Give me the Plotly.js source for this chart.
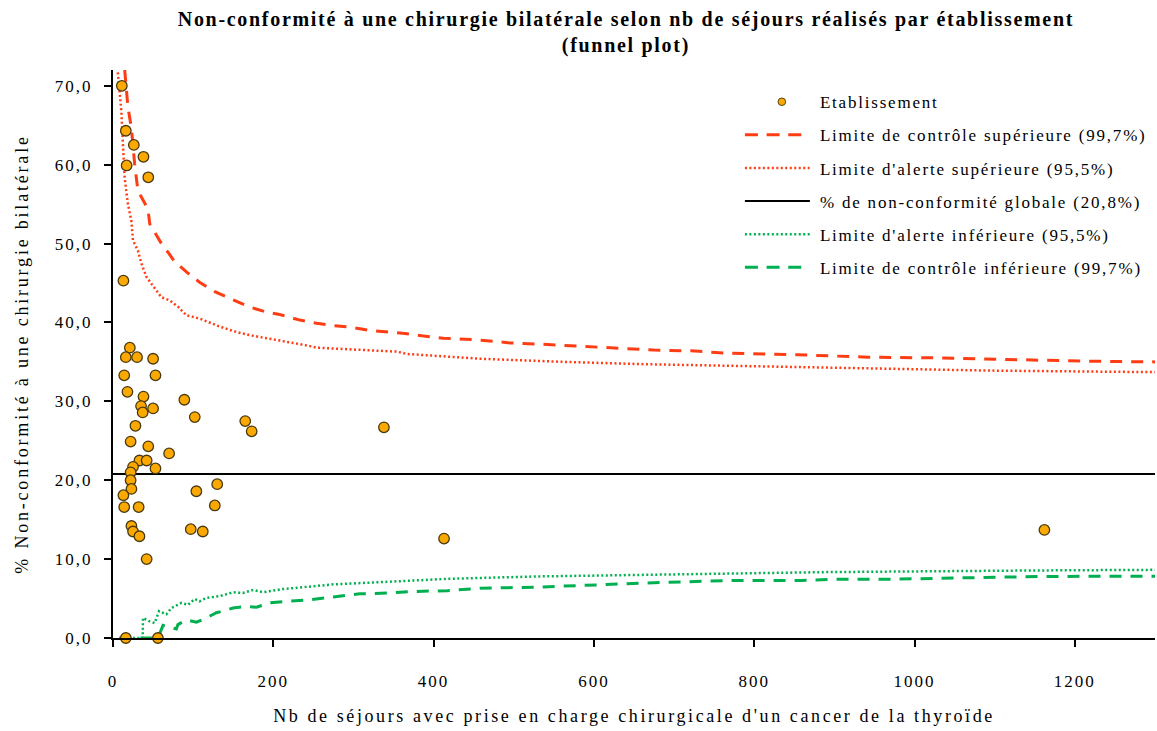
<!DOCTYPE html>
<html>
<head>
<meta charset="utf-8">
<script src="https://cdn.plot.ly/plotly-3.0.1.min.js"></script>
<style>
html,body{margin:0;padding:0;background:#fff}
#chart{width:1157px;height:731px}
#chart .legendtext{letter-spacing:1.8px}
#chart .legend .scrollbox,#chart .legend{clip-path:none !important}
#chart .legendlines path{transform:translate(-45.8px,0px) scaleX(2.167)}
#chart .legendlines path[style*="9px"]{stroke-dasharray:6px 4px !important}
#chart .legendlines path[style*="2.5px"]{stroke-dasharray:0.92px 1.15px !important}
#chart .legendpoints path{transform:translate(2px,0px) scale(0.72)}
#chart .xtitle{letter-spacing:2.6px}
#chart .ytitle{letter-spacing:2.8px}
#chart .xtick text,#chart .ytick text{letter-spacing:2px}
#chart .gtitle{letter-spacing:1.7px}
</style>
</head>
<body>
<div id="chart"></div>
<script>
// Establishments: number of stays and % non-conformity
const establishmentsN = [11,16,26,38,17,44,13,21,16,30,50,14,53,18,38,89,35,50,37,102,28,22,44,70,33,42,25,53,22,22,23,13,104,130,14,32,127,23,25,33,97,112,42,16,56,165,173,338,413,1162];
const establishmentsPct = [70.0,64.3,62.5,61.0,59.9,58.4,45.3,36.8,35.6,35.6,35.4,33.3,33.3,31.2,30.6,30.2,29.4,29.1,28.6,28.0,26.9,24.9,24.3,23.4,22.5,22.5,21.7,21.5,21.0,20.0,18.9,18.1,18.6,19.5,16.6,16.6,16.8,14.2,13.5,12.9,13.8,13.5,10.0,0,0,27.5,26.2,26.7,12.6,13.7];

// Upper control limit (99.7%)
const uclX = [14.6,18.6,22.9,24.9,27,31.1,35.4,43.6,45.8,52,60.4,68.6,77,91.6,108,127,148,169,192,208,233,254,275,296,319,342,364,385,412,454,496,542,583,629,675,721,767,854,942,1033,1121,1208,1300];
const uclY = [72,67.3,64.7,61.8,60.1,56.7,55.9,54.4,52.5,51.5,50.0,48.9,47.7,46.4,45.1,43.9,43.0,42.0,41.3,41.0,40.3,39.9,39.6,39.4,39.0,38.8,38.6,38.3,38.0,37.8,37.4,37.2,37.0,36.7,36.5,36.4,36.1,35.9,35.6,35.5,35.3,35.1,35.0];

// Upper alert limit (95.5%)
const ualX = [6,10.4,12.4,14.5,18.6,22.9,24.9,31.1,35.4,41.6,47.9,60.4,70.8,81.1,91.6,108,130,150,170,190,208,246,254,354,367,458,562,667,767,925,1092,1300];
const ualY = [71.7,66.8,62.6,58.4,55.0,52.9,50.4,49.1,47.5,45.8,44.9,43.2,42.8,42.0,40.9,40.5,39.6,38.9,38.4,38.0,37.7,37.0,36.8,36.3,36.0,35.4,35.0,34.7,34.5,34.2,33.9,33.7];

// Overall non-conformity
const overallX = [0,1300];
const overallRate = [20.8,20.8];

// Lower alert limit (95.5%)
const lalX = [8,37,37.4,45.8,52,57.4,66.6,72.9,85.4,93.6,102,108,116.6,133,150,162,175,187,212,275,358,417,528,720,888,1150,1300];
const lalY = [0,0,2.55,2.1,1.9,3.4,3.0,3.8,4.45,4.2,4.95,4.65,5.1,5.3,5.8,5.7,6.1,5.8,6.2,6.8,7.2,7.5,7.8,8.1,8.35,8.56,8.64];

// Lower control limit (99.7%)
const lclX = [8,56,60.4,62.4,79,81,91.6,104,116.6,129,150,166.6,179,196,217,242,275,308,342,375,417,458,528,615,685,772,859,906,976,1063,1156,1300];
const lclY = [0,0,1.1,1.6,1.15,1.7,2.3,2.0,2.55,3.2,3.8,4.0,3.9,4.45,4.65,4.8,5.2,5.6,5.7,5.9,6.0,6.3,6.45,6.8,7.04,7.3,7.3,7.46,7.46,7.63,7.8,7.84];

const xTicks = [0,200,400,600,800,1000,1200];
const yTicks = [0,10,20,30,40,50,60,70];
const yTickText = ["0,0","10,0","20,0","30,0","40,0","50,0","60,0","70,0"];

const names = [
  "Etablissement",
  "Limite de contrôle supérieure (99,7%)",
  "Limite d'alerte supérieure (95,5%)",
  "% de non-conformité globale (20,8%)",
  "Limite d'alerte inférieure (95,5%)",
  "Limite de contrôle inférieure (99,7%)"
];

const red = '#FF3D14', green = '#00B050';
const serif = 'Liberation Serif, Times New Roman, serif';

const traces = [
  {x: lclX, y: lclY, mode:'lines', name:names[5], legendgroup:'g6', legendrank:6,
   line:{color:green, width:3, dash:'12px,9px'}},
  {x: lalX, y: lalY, mode:'lines', name:names[4], legendgroup:'g5', legendrank:5,
   line:{color:green, width:2.5, dash:'2px,2.5px'}},
  {x: ualX, y: ualY, mode:'lines', name:names[2], legendgroup:'g3', legendrank:3,
   line:{color:red, width:2.5, dash:'2px,2.5px'}},
  {x: uclX, y: uclY, mode:'lines', name:names[1], legendgroup:'g2', legendrank:2,
   line:{color:red, width:3, dash:'12px,9px'}},
  {x: overallX, y: overallRate, mode:'lines', name:names[3], legendgroup:'g4', legendrank:4,
   line:{color:'#000', width:2}},
  {x: establishmentsN, y: establishmentsPct, mode:'markers', name:names[0], legendgroup:'g1', legendrank:1,
   marker:{color:'#FBA900', size:10.5, line:{color:'#4a3a10', width:1.3}}, cliponaxis:false}
];

const layout = {
  width:1157, height:731,
  paper_bgcolor:'#fff', plot_bgcolor:'#fff',
  margin:{l:113, r:2, t:70, b:93},
  font:{family:serif, color:'#000', size:16},
  title:{text:'<b>Non-conformité à une chirurgie bilatérale selon nb de séjours réalisés par établissement<br>(funnel plot)</b>',
    font:{family:serif, size:20, color:'#000'}, x:0.541, xanchor:'center', y:0.964, yanchor:'top'},
  xaxis:{range:[0,1300], tickvals:xTicks, ticktext:xTicks.map(String), showgrid:false, zeroline:false,
    showline:true, linecolor:'#000', linewidth:2, ticks:'outside', ticklen:7, tickwidth:2, tickcolor:'#000',
    ticklabelstandoff:20, tickfont:{size:17, family:serif},
    title:{text:"Nb de séjours avec prise en charge chirurgicale d'un cancer de la thyroïde", font:{size:18, family:serif}, standoff:19}},
  yaxis:{range:[0,72], tickvals:yTicks, ticktext:yTickText, showgrid:false, zeroline:false,
    showline:true, linecolor:'#000', linewidth:2, ticks:'outside', ticklen:7, tickwidth:2, tickcolor:'#000',
    ticklabelstandoff:8, tickfont:{size:17, family:serif},
    title:{text:'% Non-conformité à une chirurgie bilatérale', font:{size:18, family:serif}, standoff:30}},
  legend:{x:0.64, y:0.975, xanchor:'left', yanchor:'top', bgcolor:'rgba(0,0,0,0)',
    font:{size:17, family:serif}, tracegroupgap:8, traceorder:'grouped'},
  showlegend:true
};

Plotly.newPlot('chart', traces, layout, {displayModeBar:false, staticPlot:true});
</script>
</body>
</html>
